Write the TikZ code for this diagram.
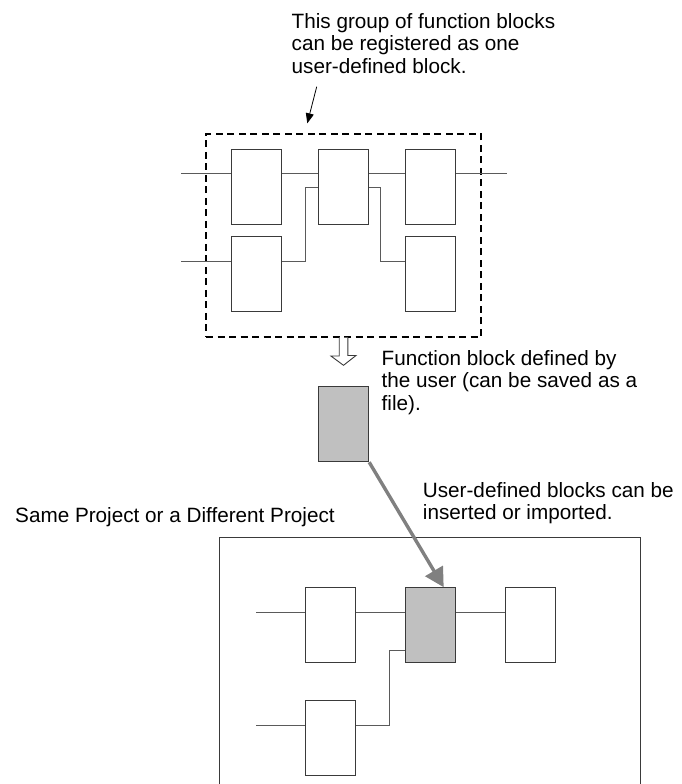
\documentclass[tikz,border=0pt]{standalone}
\usepackage{fontspec}
\setmainfont{Liberation Sans}
\usetikzlibrary{arrows.meta}
\definecolor{edgec}{HTML}{3A3A3A}
\definecolor{wirec}{HTML}{5A5A5A}
\definecolor{fillg}{HTML}{C0C0C0}
\definecolor{arrg}{HTML}{808080}
\begin{document}
\begin{tikzpicture}[x=1pt,y=-1pt,
  fblock/.style={draw=edgec,line width=1pt,minimum width=50pt,minimum height=75pt,inner sep=0pt,fill=white},
  gblock/.style={fblock,fill=fillg},
  wire/.style={draw=wirec,line width=0.9pt},
  label/.style={inner sep=0pt,anchor=base west,align=left,font=\fontsize{20.7}{22.6}\selectfont},
  grp/.style={draw=black,line width=1.6pt,dash pattern=on 7pt off 4.5pt,minimum width=275pt,minimum height=202.7pt,inner sep=0pt},
  bigarrow/.style={draw=arrg,line width=3.4pt,-{Triangle[length=19pt,width=20pt]}},
  smallarrow/.style={draw=black,line width=0.8pt,-{Triangle[length=10pt,width=8pt]}}
]
\useasboundingbox (0,0) rectangle (682,784);

% group box
\node[grp] (group) at (343.5,235.35) {};

% top blocks
\node[fblock] (b1) at (256,186.5) {};
\node[fblock] (b2) at (343.7,186.5) {};
\node[fblock] (b3) at (430.7,186.5) {};
\node[fblock] (b4) at (256,274.3) {};
\node[fblock] (b5) at (430.7,274.3) {};

\coordinate (in1) at (181,173.7);
\coordinate (out1) at (506.7,173.7);
\coordinate (in2) at (181,261.7);
\coordinate (j1) at (305.7,187.3);
\coordinate (j2) at (380.7,187.3);

\draw[wire] (in1) -- (in1 -| b1.west);
\draw[wire] (b1.east |- in1) -- (b2.west |- in1);
\draw[wire] (b2.east |- in1) -- (b3.west |- in1);
\draw[wire] (b3.east |- in1) -- (out1);
\draw[wire] (in2) -- (in2 -| b4.west);
\draw[wire] (b4.east |- in2) -| (j1) -- (b2.west |- j1);
\draw[wire] (b2.east |- j2) -- (j2) |- (b5.west |- in2);

% hollow arrow
\draw[draw=edgec,line width=0.9pt,fill=white]
  ([xshift=-4.3pt]group.south) -- ++(0,18.5) -- ++(-8.3,0) -- (343.5,365.3)
  -- (356,355.5) -- ++(-8.2,0) -- ([xshift=4.3pt]group.south);

% user-defined block
\node[gblock] (g) at (343.7,424.2) {};

% bottom frame
\coordinate (f1) at (219,784);
\coordinate (f2) at (640.7,537.3);
\draw[wire,draw=edgec] (f1) |- (f2) -- (f2 |- f1);

% bottom blocks
\node[fblock] (c1) at (330.7,625.2) {};
\node[gblock] (c2) at (430.7,625.2) {};
\node[fblock] (c3) at (530.3,625.2) {};
\node[fblock] (c4) at (330.7,737.8) {};

\coordinate (k1) at (256,612.7);
\coordinate (k2) at (256,725);
\coordinate (k3) at (389,650);

\draw[wire] (k1) -- (c1.west |- k1);
\draw[wire] (c1.east |- k1) -- (c2.west |- k1);
\draw[wire] (c2.east |- k1) -- (c3.west |- k1);
\draw[wire] (k2) -- (c4.west |- k2);
\draw[wire] (c4.east |- k2) -| (k3) -- (c2.west |- k3);

% gray insert arrow
\coordinate (tip) at ([xshift=-12.5pt]c2.north east);
\draw[bigarrow] (g.south east) -- (tip);

% texts (anchored at the baseline of the last line)
\node[label] (t1) at (291.5,73.5) {This group of function blocks\\can be registered as one\\user-defined block.};
\coordinate (sa) at (316.7,86.7);
\coordinate (sb) at (307.3,123.3);
\draw[smallarrow] (sa) -- (sb);

\node[label] (t2) at (381.5,410.5) {Function block defined by\\the user (can be saved as a\\file).};
\node[label] (t3) at (422.7,519.8) {User-defined blocks can be\\inserted or imported.};
\node[label] (t4) at (15,522) {Same Project or a Different Project};
\end{tikzpicture}
\end{document}
